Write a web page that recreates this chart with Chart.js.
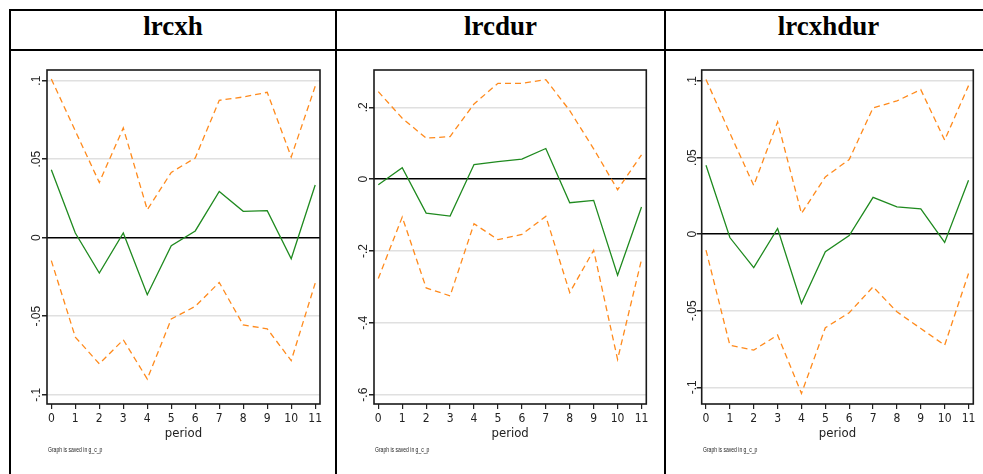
<!DOCTYPE html>
<html>
<head>
<meta charset="utf-8">
<script src="https://cdn.jsdelivr.net/npm/chart.js@4.4.1/dist/chart.umd.min.js"></script>
<style>
html, body { margin: 0; padding: 0; background: #fff; overflow: hidden; }
body { width: 983px; height: 474px; position: relative; }
.line { position: absolute; background: #000; }
.head { position: absolute; top: 11px; height: 38px; line-height: 38px; text-align: center;
        font: bold 27px 'Liberation Serif', 'Times New Roman', serif; color: #000; }
.note { position: absolute; top: 446px; font: 7px 'Liberation Sans Narrow', 'Liberation Sans', sans-serif;
        transform-origin: 0 0; transform: scaleX(0.72); white-space: nowrap; color: #222; }
canvas { position: absolute; top: 51px; }
</style>
</head>
<body>
<div class="line" style="left:9px;top:9px;width:990px;height:2px"></div>
<div class="line" style="left:9px;top:49px;width:990px;height:2px"></div>
<div class="line" style="left:9px;top:9px;width:2px;height:470px"></div>
<div class="line" style="left:335px;top:9px;width:2px;height:470px"></div>
<div class="line" style="left:664px;top:9px;width:2px;height:470px"></div>

<div class="head" style="left:11px;width:324px">lrcxh</div>
<div class="head" style="left:337px;width:327px">lrcdur</div>
<div class="head" style="left:666px;width:325px">lrcxhdur</div>

<canvas id="c1" width="324" height="423" style="left:11px"></canvas>
<canvas id="c2" width="327" height="423" style="left:337px"></canvas>
<canvas id="c3" width="317" height="423" style="left:666px"></canvas>

<div class="note" style="left:48px">Graph is saved in g_c_p</div>
<div class="note" style="left:375px">Graph is saved in g_c_p</div>
<div class="note" style="left:703px">Graph is saved in g_c_p</div>

<script>
// periods (x axis)
const periods = [0, 1, 2, 3, 4, 5, 6, 7, 8, 9, 10, 11];

// lrcxh
const lrcxhIrf   = [0.0433, 0.003, -0.0225, 0.003, -0.0363, -0.0051, 0.0043, 0.0295, 0.0168, 0.0172, -0.0134, 0.0336];
const lrcxhUpper = [0.1011, 0.068, 0.0352, 0.0699, 0.0178, 0.0416, 0.0508, 0.0875, 0.0896, 0.0926, 0.0514, 0.0964];
const lrcxhLower = [-0.0146, -0.0633, -0.0803, -0.065, -0.09, -0.0518, -0.0437, -0.0285, -0.0556, -0.058, -0.0783, -0.0289];
const lrcxhTicks = [-0.1, -0.05, 0, 0.05, 0.1];

// lrcdur
const lrcdurIrf   = [-0.0157, 0.0316, -0.0944, -0.1028, 0.0408, 0.049, 0.0556, 0.0853, -0.0657, -0.0592, -0.2675, -0.0777];
const lrcdurUpper = [0.2436, 0.1695, 0.114, 0.1186, 0.2094, 0.2667, 0.2667, 0.277, 0.1908, 0.0844, -0.0295, 0.0678];
const lrcdurLower = [-0.2767, -0.1055, -0.3027, -0.325, -0.124, -0.1684, -0.1537, -0.1036, -0.3157, -0.198, -0.5017, -0.224];
const lrcdurTicks = [-0.6, -0.4, -0.2, 0, 0.2];

// lrcxhdur
const lrcxhdurIrf   = [0.045, -0.0022, -0.0218, 0.0037, -0.0453, -0.0115, -0.0009, 0.024, 0.0178, 0.0165, -0.0054, 0.0352];
const lrcxhdurUpper = [0.101, 0.066, 0.0318, 0.0733, 0.0135, 0.0374, 0.0487, 0.0825, 0.087, 0.0944, 0.0614, 0.097];
const lrcxhdurLower = [-0.0104, -0.0725, -0.0757, -0.0659, -0.104, -0.0611, -0.0513, -0.0344, -0.0507, -0.0616, -0.0725, -0.0257];
const lrcxhdurTicks = [-0.1, -0.05, 0, 0.05, 0.1];

const GREEN = '#1f8a1f';
const ORANGE = '#ff8a1c';
const NARROW = "'Liberation Sans Narrow', 'DejaVu Sans Condensed', 'Liberation Sans', sans-serif";

// stata style labels: .05, -.1, 0
function fmt(v) {
    const s = String(+(+v).toFixed(3));
    return s.replace(/^(-?)0\./, '$1.');
}

const framePlugin = {
    id: 'frame',
    afterDatasetsDraw(chart) {
        const { ctx, chartArea: a } = chart;
        ctx.save();
        ctx.strokeStyle = '#1a1a1a';
        ctx.lineWidth = 1.6;
        ctx.strokeRect(a.left, a.top, a.right - a.left, a.bottom - a.top);
        ctx.restore();
    }
};

function pts(vals) {
    return vals.map((v, i) => ({ x: periods[i], y: v }));
}

function makePanel(id, irf, upper, lower, yTicks, yMin, yMax, yWidth, padRight, tickPad) {
    return new Chart(document.getElementById(id), {
        type: 'line',
        data: {
            datasets: [
                { data: pts(upper), borderColor: ORANGE, borderWidth: 1.3, borderDash: [6, 4], pointRadius: 0, tension: 0 },
                { data: pts(irf), borderColor: GREEN, borderWidth: 1.3, pointRadius: 0, tension: 0 },
                { data: pts(lower), borderColor: ORANGE, borderWidth: 1.3, borderDash: [6, 4], pointRadius: 0, tension: 0 }
            ]
        },
        options: {
            responsive: false,
            animation: false,
            layout: { padding: { left: 0, right: padRight, top: 19, bottom: 30 } },
            plugins: { legend: { display: false }, tooltip: { enabled: false } },
            scales: {
                x: {
                    type: 'linear',
                    min: -0.18,
                    max: 11.2,
                    afterBuildTicks: s => { s.ticks = periods.map(v => ({ value: v })); },
                    afterFit: s => { s.height = 40; },
                    ticks: { font: { family: NARROW, size: 12 }, color: '#222', padding: 3, maxRotation: 0, autoSkip: false },
                    grid: { drawOnChartArea: false, drawTicks: true, tickLength: 5, tickColor: '#222', lineWidth: 1.2 },
                    border: { display: false },
                    title: { display: true, text: 'period', font: { family: NARROW, size: 13 }, color: '#222', padding: { top: 2, bottom: 3 } }
                },
                y: {
                    min: yMin,
                    max: yMax,
                    afterBuildTicks: s => { s.ticks = yTicks.map(v => ({ value: v })); },
                    afterFit: s => { s.width = yWidth; },
                    ticks: {
                        minRotation: 90, maxRotation: 90, crossAlign: 'center', padding: tickPad,
                        font: { family: "'Liberation Sans', Arial, sans-serif", size: 12 }, color: '#222',
                        callback: v => fmt(v)
                    },
                    grid: {
                        color: c => (c.tick && Math.abs(c.tick.value) < 1e-9) ? '#000' : '#e0e0e0',
                        lineWidth: 1.5,
                        tickLength: 5,
                        tickColor: '#222'
                    },
                    border: { display: false }
                }
            }
        },
        plugins: [framePlugin]
    });
}

makePanel('c1', lrcxhIrf, lrcxhUpper, lrcxhLower, lrcxhTicks, -0.1059, 0.1068, 36, 15, -5.3);
makePanel('c2', lrcdurIrf, lrcdurUpper, lrcdurLower, lrcdurTicks, -0.6259, 0.3038, 37, 17.7, -2);
makePanel('c3', lrcxhdurIrf, lrcxhdurUpper, lrcxhdurLower, lrcxhdurTicks, -0.1109, 0.1072, 35.7, 9.7, -5.9);
</script>
</body>
</html>
